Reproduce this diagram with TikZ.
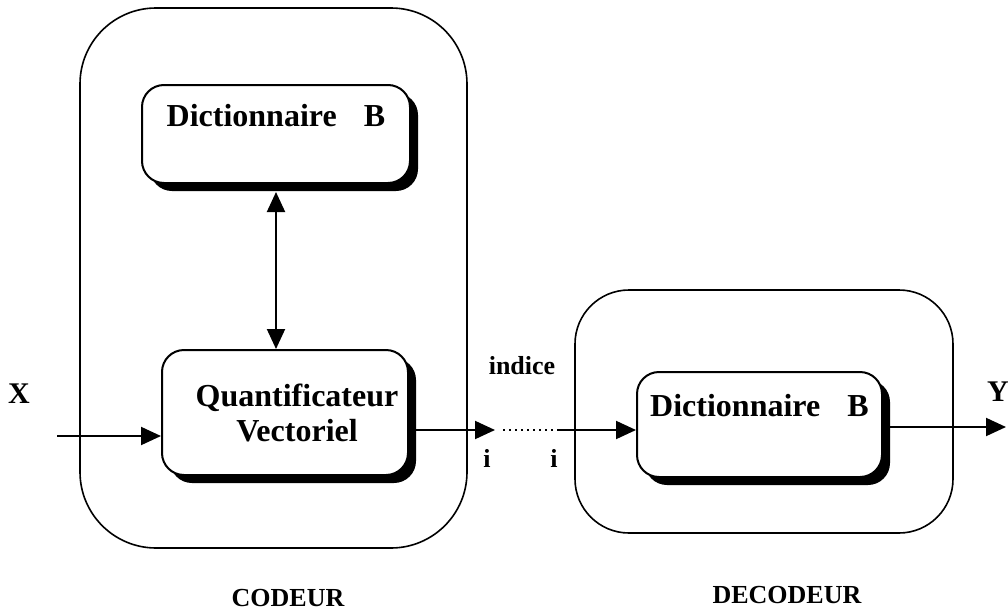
\documentclass[tikz,border=0pt]{standalone}
\usepackage{fontspec}
\setmainfont{Liberation Serif}
\usetikzlibrary{arrows.meta, positioning, shadows}

\begin{document}
\begin{tikzpicture}[
    x=0.5pt, y=-0.5pt,
    outer/.style={rectangle, draw, line width=0.8pt, inner sep=0pt},
    block/.style={rectangle, draw, line width=1pt, fill=white, rounded corners=11pt, inner sep=0pt, align=center, font=\bfseries\fontsize{16}{19}\selectfont, drop shadow={shadow xshift=4pt, shadow yshift=-4pt, fill=black, opacity=1}},
    lbl/.style={font=\bfseries\fontsize{13}{15}\selectfont, inner sep=0pt},
    line/.style={draw, line width=1pt, -{Triangle[length=10pt, width=9pt]}},
    dline/.style={draw, line width=1pt, {Triangle[length=10pt, width=9pt]}-{Triangle[length=10pt, width=9pt]}}
]
    \useasboundingbox (0,0) rectangle (1008,611);
    % codeur
    \node [outer, rounded corners=38pt, minimum width=193.5pt, minimum height=270pt] (codeur) at (273.5,278) {};
    \node [block, minimum width=134pt, minimum height=49pt] (dictc) at (276,134) {Dictionnaire\hspace{0.6em} B\\ \mbox{}};
    \node [block, minimum width=123pt, minimum height=62.5pt, font=\bfseries\fontsize{16}{17.5}\selectfont] (quant) at (285,412.5) {\hspace{12pt}Quantificateur\\\hspace{12pt}Vectoriel};
    % decodeur
    \node [outer, rounded corners=27pt, minimum width=189pt, minimum height=121.5pt] (decodeur) at (764,411.5) {};
    \node [block, minimum width=122.5pt, minimum height=52.5pt] (dictd) at (759.5,424.5) {Dictionnaire\hspace{0.6em} B\\ \mbox{}};

    \coordinate (xin) at (57,436);
    \coordinate (iout) at (495,430);
    \coordinate (iin) at (557,430);
    \coordinate (yout) at (1006,427);

    \node [lbl, font=\bfseries\fontsize{15}{17}\selectfont] (xlbl) at (19,394) {X};
    \node [lbl, font=\bfseries\fontsize{15}{17}\selectfont] (ylbl) at (998,392) {Y};
    \node [lbl] (indice) at (522,366) {indice};
    \node [lbl] (ileft) at (487,458) {i};
    \node [lbl] (iright) at (554,458) {i};
    \node [lbl] (codlbl) at (288,598) {CODEUR};
    \node [lbl] (declbl) at (787,595) {DECODEUR};

    \path [line] (xin) -- (xin -| quant.west);
    \path [dline, shorten <=4pt] (dictc.south) -- (dictc.south |- quant.north);
    \path [line] (iout -| quant.east) -- (iout);
    \draw [dotted, line width=1pt, shorten <=4pt, shorten >=2pt] (iout) -- (iin);
    \path [line] (iin) -- (iin -| dictd.west);
    \path [line] (yout -| dictd.east) -- (yout);
\end{tikzpicture}
\end{document}
